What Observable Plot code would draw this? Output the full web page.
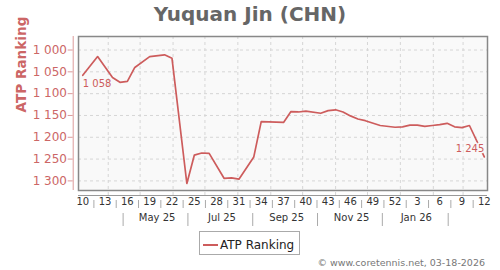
<!DOCTYPE html>
<html>
<head>
<meta charset="utf-8">
<script src="https://cdn.jsdelivr.net/npm/d3@7"></script>
<script src="https://cdn.jsdelivr.net/npm/@observablehq/plot@0.6"></script>
<style>
  body { margin: 0; background: #fff; font-family: "DejaVu Sans", sans-serif; }
  #wrap { position: relative; width: 500px; height: 270px; overflow: hidden; background: #fff; }
  #chart { position: absolute; left: 0; top: 0; }
  #title { position: absolute; left: 0; top: 2px; width: 500px; text-align: center;
           font-weight: bold; font-size: 20px; color: #666; line-height: normal; white-space: nowrap; }
  #legend { position: absolute; left: 199px; top: 230.5px; width: 101px; height: 24px;
            box-sizing: border-box; border: 1px solid #aaa; background: #fff; }
  #legend-line { position: absolute; left: 202.7px; top: 244px; width: 15.6px; height: 1.6px; background: #cd5c5c; }
  #legend-text { position: absolute; left: 220px; top: 237.6px; font-size: 12px; color: #222; line-height: normal; white-space: nowrap; }
  #credit { position: absolute; right: 15px; top: 257px; font-size: 9.5px; color: #777; line-height: normal; white-space: nowrap; }
</style>
</head>
<body>
<div id="wrap">
  <div id="chart"></div>
  <div id="title">Yuquan Jin (CHN)</div>
  <div id="legend"></div>
  <div id="legend-line"></div>
  <div id="legend-text">ATP Ranking</div>
  <div id="credit">© www.coretennis.net, 03-18-2026</div>
</div>
<script>
// ---- data ----
const dates = [
  "2025-03-08","2025-03-22","2025-04-05","2025-04-12","2025-04-19","2025-04-26",
  "2025-05-10","2025-05-24","2025-05-31","2025-06-14","2025-06-21","2025-06-28",
  "2025-07-05","2025-07-19","2025-07-26","2025-08-02","2025-08-16","2025-08-23",
  "2025-09-13","2025-09-20","2025-09-27","2025-10-04","2025-10-18","2025-10-25",
  "2025-11-01","2025-11-08","2025-11-15","2025-11-22","2025-11-29","2025-12-13",
  "2025-12-27","2026-01-03","2026-01-10","2026-01-17","2026-01-24","2026-01-31",
  "2026-02-07","2026-02-14","2026-02-21","2026-02-28","2026-03-07","2026-03-21"
];
const ranks = [
  1058, 1015, 1063, 1074, 1072, 1040,
  1015, 1011, 1019, 1306, 1241, 1236,
  1237, 1294, 1293, 1296, 1245, 1164,
  1166, 1141, 1142, 1140, 1145, 1139,
  1137, 1142, 1151, 1158, 1162, 1173,
  1177, 1176, 1172, 1172, 1175, 1173,
  1171, 1168, 1176, 1178, 1173, 1245
];
const yTicks = [1000, 1050, 1100, 1150, 1200, 1250, 1300];
const yTickLabels = ["1 000", "1 050", "1 100", "1 150", "1 200", "1 250", "1 300"];
const weekTickDates = [
  "2025-03-08","2025-03-29","2025-04-19","2025-05-10","2025-05-31","2025-06-21",
  "2025-07-12","2025-08-02","2025-08-23","2025-09-13","2025-10-04","2025-10-25",
  "2025-11-15","2025-12-06","2025-12-27","2026-01-17","2026-02-07","2026-02-28","2026-03-21"
];
const weekTickLabels = ["10","13","16","19","22","25","28","31","34","37","40","43","46","49","52","3","6","9","12"];
const monthLabelDates = ["2025-05-17","2025-07-17","2025-09-16","2025-11-16","2026-01-16"];
const monthLabels = ["May 25", "Jul 25", "Sep 25", "Nov 25", "Jan 26"];
const monthSeparatorDates = ["2025-04-15","2025-06-15","2025-08-15","2025-10-15","2025-12-15","2026-02-15"];
const seriesName = "ATP Ranking";

// ---- build ----
const D = s => new Date(s + "T00:00:00Z");
const data = dates.map((d, i) => ({date: D(d), rank: ranks[i]}));
const fmt = v => d3.format(",")(v).replace(/,/g, " ");
const x0 = D("2025-03-04"), x1 = D("2026-03-24");
const gridMonths = d3.utcMonth.range(D("2025-04-01"), D("2026-03-02"));
const weekTicks = weekTickDates.map(D);
const weekSeps = d3.pairs(weekTicks, (a, b) => new Date((+a + +b) / 2));
const red = "#cd5c5c";
const pink = "#cc6666";
const axisPink = "#dc9a9a";

const chart = Plot.plot({
  width: 500, height: 270,
  marginTop: 36, marginBottom: 80, marginLeft: 78, marginRight: 13,
  style: {fontFamily: "DejaVu Sans", background: "transparent", overflow: "visible"},
  x: {type: "utc", domain: [x0, x1], axis: null},
  y: {domain: [969, 1322], reverse: true, axis: null},
  marks: [
    Plot.frame({fill: "#f9f9f9", stroke: null}),
    Plot.ruleY(yTicks, {stroke: "#d6d6d6", strokeDasharray: "3,3"}),
    Plot.ruleX(gridMonths, {stroke: "#d6d6d6", strokeDasharray: "3,3", insetBottom: -5}),
    Plot.line(data, {x: "date", y: "rank", stroke: red, strokeWidth: 1.7}),
    Plot.text([data[0]], {x: "date", y: "rank", text: d => fmt(d.rank), textAnchor: "start",
      dy: 8.5, fill: red, fontSize: 10}),
    Plot.text([data[data.length - 1]], {x: "date", y: "rank", text: d => fmt(d.rank), textAnchor: "end",
      dy: -8.4, fill: red, stroke: "#f9f9f9", strokeWidth: 3, fontSize: 10}),
    Plot.frame({stroke: "#888", strokeWidth: 1.5}),
    // y axis
    Plot.ruleX([x0], {dx: -5.3, stroke: axisPink}),
    Plot.ruleY(yTicks, {insetLeft: -10.3, insetRight: 414.3, stroke: axisPink}),
    Plot.text(yTicks, {y: d => d, text: (d, i) => yTickLabels[i], frameAnchor: "left",
      textAnchor: "end", dx: -11.5, fontSize: 12, fill: pink}),
    Plot.text([seriesName], {frameAnchor: "left", dx: -57, dy: -1, rotate: -90, fontSize: 13.6,
      fontWeight: "bold", fill: pink}),
    // x axis
    Plot.ruleY([1322], {dy: 5, stroke: "#999", strokeWidth: 1.2}),
    Plot.ruleX(weekSeps, {insetTop: 164, insetBottom: -18, stroke: "#aaa"}),
    Plot.text(weekTicks, {x: d => d, text: (d, i) => weekTickLabels[i], frameAnchor: "bottom",
      dy: 14, fontSize: 10, fill: "#333"}),
    Plot.ruleX(monthSeparatorDates.map(D), {insetTop: 177, insetBottom: -36, stroke: "#aaa"}),
    Plot.text(monthLabelDates.map(D), {x: d => d, text: (d, i) => monthLabels[i], frameAnchor: "bottom",
      dy: 30.7, fontSize: 10, fill: "#333"})
  ]
});
document.getElementById("chart").appendChild(chart);
</script>
</body>
</html>
